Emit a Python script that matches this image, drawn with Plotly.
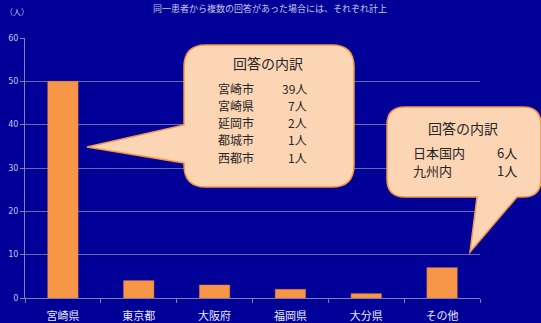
import plotly.graph_objects as go

categories = ["宮崎県", "東京都", "大阪府", "福岡県", "大分県", "その他"]
values = [50, 4, 3, 2, 1, 7]
y_ticks = [0, 10, 20, 30, 40, 50, 60]

box1_title = "回答の内訳"
box1_names = ["宮崎市", "宮崎県", "延岡市", "都城市", "西都市"]
box1_vals = ["39人", "7人", "2人", "1人", "1人"]
box2_title = "回答の内訳"
box2_names = ["日本国内", "九州内"]
box2_vals = ["6人", "1人"]

W, H = 541, 323
L, R, T, B = 25, 61, 38, 25
PW, PH = W - L - R, H - T - B
BG = "#000099"
JP = "Noto Sans CJK JP, Noto Sans, sans-serif"
TXT = "#262626"


def px(x):
    return (x - L) / PW


def py(y):
    return (H - B - y) / PH


def callout(x0, y0, x1, y1, r, side, a, b, tip):
    s = f"M{px(x0 + r)},{py(y0)} L{px(x1 - r)},{py(y0)} Q{px(x1)},{py(y0)} {px(x1)},{py(y0 + r)} "
    s += f"L{px(x1)},{py(y1 - r)} Q{px(x1)},{py(y1)} {px(x1 - r)},{py(y1)} "
    if side == "bottom":
        s += f"L{px(b)},{py(y1)} L{px(tip[0])},{py(tip[1])} L{px(a)},{py(y1)} "
    s += f"L{px(x0 + r)},{py(y1)} Q{px(x0)},{py(y1)} {px(x0)},{py(y1 - r)} "
    if side == "left":
        s += f"L{px(x0)},{py(b)} L{px(tip[0])},{py(tip[1])} L{px(x0)},{py(a)} "
    s += f"L{px(x0)},{py(y0 + r)} Q{px(x0)},{py(y0)} {px(x0 + r)},{py(y0)} Z"
    return dict(type="path", xref="paper", yref="paper", path=s,
                fillcolor="#FCD5B5", line=dict(color="#F79646", width=1.5), layer="above")


def txt(text, x, y, anchor, size=12, color=TXT):
    return dict(text=text, x=px(x), y=py(y), xref="paper", yref="paper", showarrow=False,
                xanchor=anchor, yanchor="middle", borderpad=0,
                font=dict(size=size, color=color, family=JP))


fig = go.Figure()
fig.add_trace(go.Bar(x=categories, y=values, width=0.4,
                     marker=dict(color="#F79646", line=dict(color="#E0803A", width=0.5))))

shapes = [
    callout(184, 45, 354, 187, 22, "left", 125, 163, (87, 147)),
    callout(387, 107, 541, 197, 18, "bottom", 477, 517, (470, 252)),
]

ann = [
    txt("同一患者から複数の回答があった場合には、それぞれ計上", 270, 9, "center", 9, "#C8C8E8"),
    txt("（人）", 4, 12, "left", 8, "#C8C8E8"),
    txt(box1_title, 268, 63, "center", 14),
    txt(box2_title, 463, 128, "center", 14),
]
for i, (n, v) in enumerate(zip(box1_names, box1_vals)):
    yy = 88 + i * 17.3
    ann.append(txt(n, 217, yy, "left"))
    ann.append(txt(v, 308, yy, "right"))
for i, (n, v) in enumerate(zip(box2_names, box2_vals)):
    yy = 152 + i * 18
    ann.append(txt(n, 412, yy, "left", 13))
    ann.append(txt(v, 518, yy, "right", 13))

fig.update_layout(
    width=W, height=H,
    margin=dict(l=L, r=R, t=T, b=B, pad=0, autoexpand=False),
    paper_bgcolor=BG, plot_bgcolor=BG,
    showlegend=False,
    shapes=shapes,
    annotations=ann,
    xaxis=dict(showgrid=False, showline=True, linecolor="#8080A8", linewidth=1, automargin=False,
               ticks="outside", tickson="boundaries", ticklen=4, tickcolor="#8080A8",
               ticklabelstandoff=8,
               tickfont=dict(size=11, color="#E8E8F8", family=JP), fixedrange=True),
    yaxis=dict(range=[0, 60], tickvals=y_ticks, showgrid=True, gridcolor="#6A6AA8", gridwidth=1,
               showline=True, linecolor="#8080A8", linewidth=1, ticks="outside", ticklen=4,
               tickcolor="#8080A8", zeroline=False, automargin=False,
               tickfont=dict(size=8, color="#C8C8E8", family="DejaVu Sans"), fixedrange=True),
)

fig.write_html("out.html")
